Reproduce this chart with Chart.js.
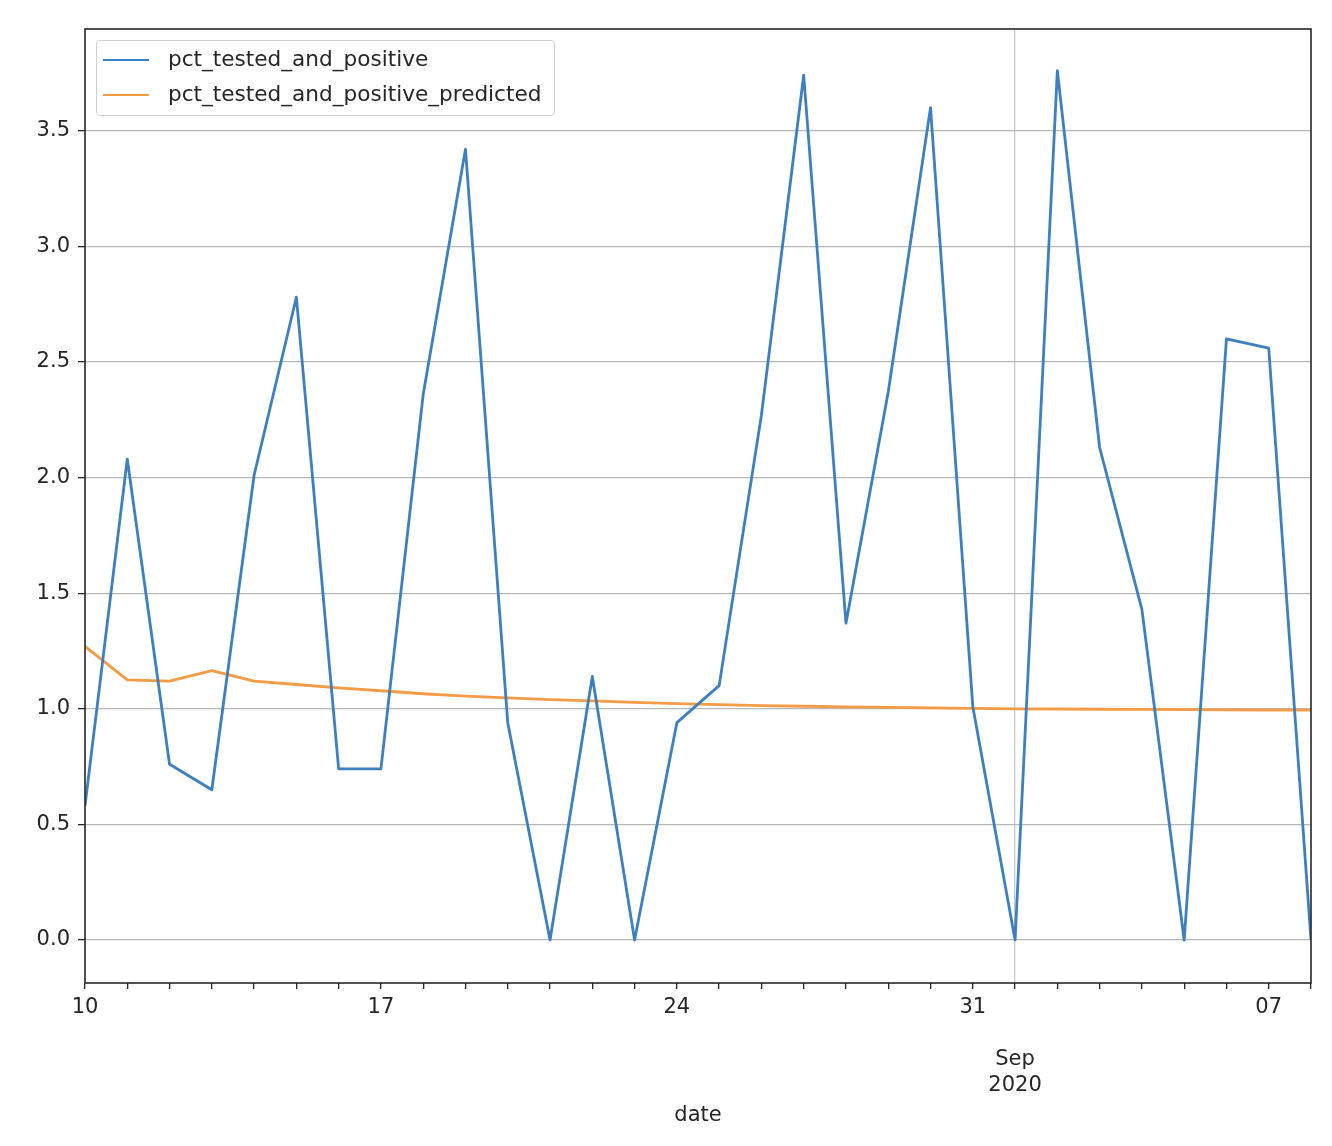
<!DOCTYPE html>
<html>
<head>
<meta charset="utf-8">
<script src="https://cdn.jsdelivr.net/npm/chart.js@4"></script>
<style>
  html, body { margin: 0; padding: 0; background: #fff; }
  #wrap { position: relative; width: 1332px; height: 1146px; }
  #legend {
    position: absolute; left: 96px; top: 40px; width: 457px; height: 74px;
    border: 1.3px solid #d0d0d0; border-radius: 4px; background: rgba(255,255,255,0.85);
    font-family: "DejaVu Sans", sans-serif; font-size: 21.6px; color: #262626;
  }
  .item { position: absolute; left: 6px; height: 30px; line-height: 30px; white-space: nowrap; }
  .swatch { display: inline-block; width: 46px; height: 0; border-top: 2.8px solid; vertical-align: middle; margin-right: 19px; }
</style>
</head>
<body>
<div id="wrap">
  <canvas id="chart"></canvas>
  <div id="legend"></div>
</div>
<script>
Chart.defaults.font.family = '"DejaVu Sans", sans-serif'
Chart.defaults.font.size = 21
Chart.defaults.color = '#262626'

const dates = [
  '2020-08-10', '2020-08-11', '2020-08-12', '2020-08-13', '2020-08-14', '2020-08-15',
  '2020-08-16', '2020-08-17', '2020-08-18', '2020-08-19', '2020-08-20', '2020-08-21',
  '2020-08-22', '2020-08-23', '2020-08-24', '2020-08-25', '2020-08-26', '2020-08-27',
  '2020-08-28', '2020-08-29', '2020-08-30', '2020-08-31', '2020-09-01', '2020-09-02',
  '2020-09-03', '2020-09-04', '2020-09-05', '2020-09-06', '2020-09-07', '2020-09-08'
]
const positive = [
  0.58, 2.08, 0.76, 0.65, 2.01, 2.78, 0.74, 0.74, 2.36, 3.42,
  0.94, 0.0, 1.14, 0.0, 0.94, 1.10, 2.27, 3.74, 1.37, 2.37,
  3.60, 1.01, 0.0, 3.76, 2.13, 1.43, 0.0, 2.60, 2.56, 0.0
]
const predicted = [
  1.27, 1.125, 1.12, 1.165, 1.12, 1.105, 1.09, 1.078, 1.065, 1.055,
  1.047, 1.04, 1.034, 1.028, 1.022, 1.018, 1.014, 1.011, 1.008, 1.006,
  1.004, 1.002, 1.0, 0.999, 0.998, 0.997, 0.996, 0.995, 0.994, 0.994
]
const yTicks = [0.0, 0.5, 1.0, 1.5, 2.0, 2.5, 3.0, 3.5]
const xLabels = { 0: '10', 7: '17', 14: '24', 21: '31', 28: '07' }
const monthTick = 22
const monthLabel = ['', '', 'Sep', '2020']

const toPoints = arr => arr.map((v, i) => ({ x: i, y: v }))

const frame = {
  id: 'frame',
  afterDraw(chart) {
    const { ctx, chartArea: a } = chart
    ctx.save()
    ctx.strokeStyle = '#262626'
    ctx.lineWidth = 1.6
    ctx.strokeRect(a.left, a.top, a.right - a.left, a.bottom - a.top)
    ctx.restore()
  }
}

const chart = new Chart(document.getElementById('chart'), {
  type: 'line',
  plugins: [frame],
  data: {
    datasets: [
      {
        label: 'pct_tested_and_positive',
        data: toPoints(positive),
        borderColor: '#3d7fbf',
        borderWidth: 2.8,
        borderJoinStyle: 'round',
        pointRadius: 0,
        tension: 0
      },
      {
        label: 'pct_tested_and_positive_predicted',
        data: toPoints(predicted),
        borderColor: '#f59a45',
        borderWidth: 2.8,
        borderJoinStyle: 'round',
        pointRadius: 0,
        tension: 0
      }
    ]
  },
  options: {
    responsive: true,
    maintainAspectRatio: false,
    animation: false,
    layout: { padding: { left: 0, top: 29, right: 21, bottom: 0 } },
    plugins: {
      tooltip: { enabled: false },
      legend: { display: false }
    },
    scales: {
      x: {
        type: 'linear',
        min: 0,
        max: dates.length - 1,
        border: { display: false },
        afterBuildTicks(scale) {
          scale.ticks = dates.map((d, i) => ({ value: i }))
        },
        afterFit(scale) { scale.height = 163 },
        grid: {
          drawOnChartArea: true,
          color: ctx => ctx.tick && ctx.tick.value === monthTick ? '#c8c8c8' : 'rgba(0,0,0,0)',
          lineWidth: 1.3,
          tickLength: 6,
          tickColor: '#262626',
          tickWidth: 1.3
        },
        ticks: {
          autoSkip: false,
          maxRotation: 0,
          padding: 5,
          font: { size: 21, lineHeight: 1.25 },
          callback(value) {
            if (value === monthTick) return monthLabel
            return xLabels[value] !== undefined ? xLabels[value] : ''
          }
        },
        title: {
          display: true,
          text: 'date',
          font: { size: 21 },
          padding: { top: 0, bottom: 18 }
        }
      },
      y: {
        min: -0.186,
        max: 3.94,
        border: { display: false },
        afterBuildTicks(scale) {
          scale.ticks = yTicks.map(v => ({ value: v }))
        },
        afterFit(scale) { scale.width = 85 },
        grid: {
          color: '#b8b8b8',
          lineWidth: 1.3,
          tickLength: 7,
          tickColor: '#262626',
          tickWidth: 1.3
        },
        ticks: {
          padding: 8,
          font: { size: 21 },
          callback: v => v.toFixed(1)
        }
      }
    }
  }
})

const legendEl = document.getElementById('legend')
chart.data.datasets.forEach((ds, i) => {
  const item = document.createElement('div')
  item.className = 'item'
  item.style.top = (3 + i * 35) + 'px'
  const sw = document.createElement('span')
  sw.className = 'swatch'
  sw.style.borderColor = ds.borderColor
  item.appendChild(sw)
  item.appendChild(document.createTextNode(ds.label))
  legendEl.appendChild(item)
})
</script>
</body>
</html>
